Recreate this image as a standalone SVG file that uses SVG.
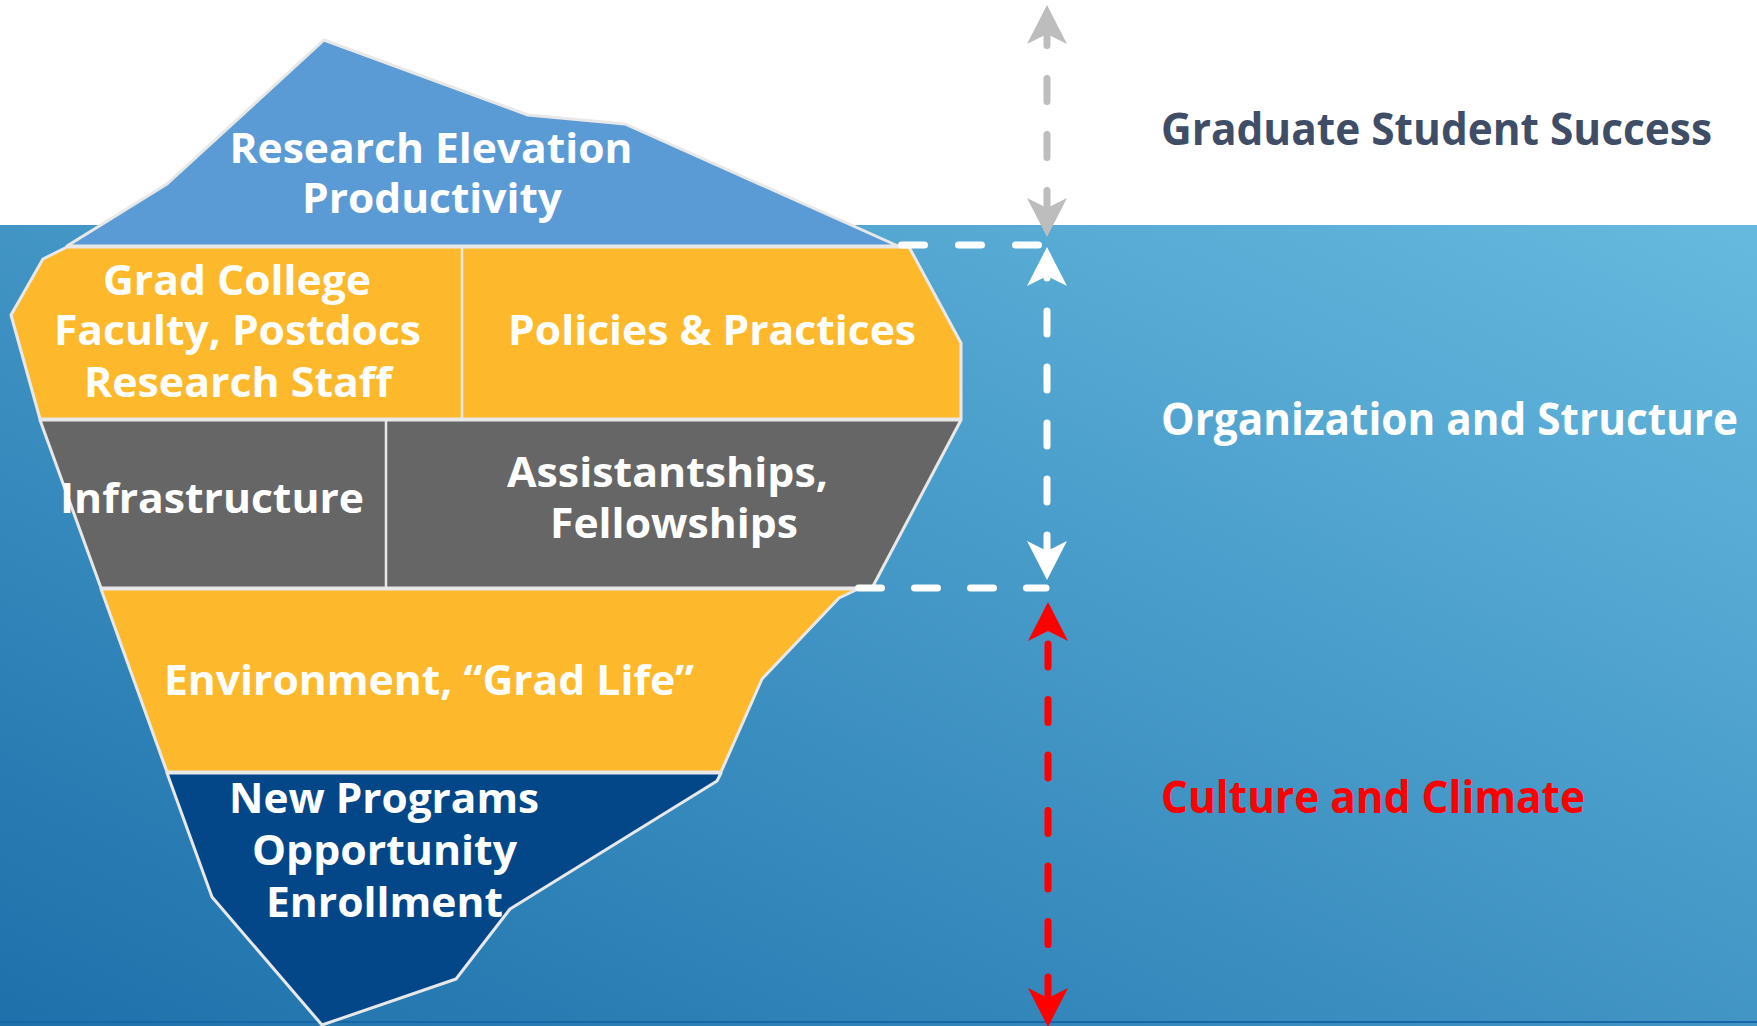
<svg xmlns="http://www.w3.org/2000/svg" xmlns:xlink="http://www.w3.org/1999/xlink" width="1757" height="1026" viewBox="0 0 1757 1026">
<style>
.ice{stroke:#e8e8e8;stroke-width:3;stroke-linejoin:round}
.div{stroke:#e8e8e8;stroke-width:2.5}
.lbl{font-family:"Open Sans","DejaVu Sans",sans-serif;font-weight:700;font-size:42px;fill:#ffffff;text-anchor:middle}
.side{font-family:"Open Sans","DejaVu Sans",sans-serif;font-weight:700;font-size:45px}
.dash{fill:none;stroke-linecap:round;stroke-width:7}
</style>
<defs>
<linearGradient id="water" gradientUnits="userSpaceOnUse" x1="1757" y1="225" x2="1152" y2="1550">
<stop offset="0" stop-color="#66badf"/>
<stop offset="1" stop-color="#1d70aa"/>
</linearGradient>
<path id="ah" d="M0,0 L-20,39 L0,29 L20,39 Z"/>
</defs>
<rect x="0" y="0" width="1757" height="1026" fill="#ffffff"/>
<rect x="0" y="225" width="1757" height="801" fill="url(#water)"/>
<rect x="0" y="1021" width="1757" height="2" fill="#1767a6"/>

<g id="node-research">
<polygon class="ice" fill="#5b9bd5" points="67,246 167,184 324,40 528,115 625,124 898,246"/>
<text class="lbl" x="431" y="163" textLength="403" lengthAdjust="spacingAndGlyphs">Research Elevation</text>
<text class="lbl" x="432" y="213" textLength="260" lengthAdjust="spacingAndGlyphs">Productivity</text>
</g>
<g id="node-yellow1">
<polygon class="ice" fill="#fdb92b" points="67,247 43,259 11,315 40,419 961,419 961,343 909,247"/>
<line class="div" x1="462" y1="247" x2="462" y2="419"/>
</g>
<g id="node-grad-college">
<text class="lbl" x="237" y="295" textLength="268" lengthAdjust="spacingAndGlyphs">Grad College</text>
<text class="lbl" x="237.5" y="345" textLength="367" lengthAdjust="spacingAndGlyphs">Faculty, Postdocs</text>
<text class="lbl" x="238" y="397" textLength="308" lengthAdjust="spacingAndGlyphs">Research Staff</text>
</g>
<g id="node-policies">
<text class="lbl" x="712" y="345" textLength="408" lengthAdjust="spacingAndGlyphs">Policies &amp; Practices</text>
</g>
<g id="node-gray">
<polygon class="ice" fill="#666666" points="40,420 961,420 872,588 101,588"/>
<line class="div" x1="386" y1="420" x2="386" y2="588"/>
</g>
<g id="node-infrastructure">
<text class="lbl" x="212" y="513" textLength="304" lengthAdjust="spacingAndGlyphs">Infrastructure</text>
</g>
<g id="node-assistantships">
<text class="lbl" x="667.5" y="487" textLength="321" lengthAdjust="spacingAndGlyphs">Assistantships,</text>
<text class="lbl" x="674" y="538" textLength="248" lengthAdjust="spacingAndGlyphs">Fellowships</text>
</g>
<g id="node-environment">
<polygon class="ice" fill="#fdb92b" points="101,589 858,589 839,598 762,679 721,772 167,772"/>
<text class="lbl" x="429" y="695" textLength="530" lengthAdjust="spacingAndGlyphs">Environment, “Grad Life”</text>
</g>
<g id="node-new-programs">
<polygon class="ice" fill="#034789" points="167,773 721,773 717,781 510,909 456,979 322,1025 212,897"/>
<text class="lbl" x="384" y="813" textLength="310" lengthAdjust="spacingAndGlyphs">New Programs</text>
<text class="lbl" x="384.5" y="865" textLength="265" lengthAdjust="spacingAndGlyphs">Opportunity</text>
<text class="lbl" x="384.5" y="917" textLength="237" lengthAdjust="spacingAndGlyphs">Enrollment</text>
</g>

<g id="connectors">
<line class="dash" stroke="#ffffff" x1="901.5" y1="245" x2="1040" y2="245" stroke-dasharray="23 34"/>
<line class="dash" stroke="#ffffff" x1="858.5" y1="588" x2="1046" y2="588" stroke-dasharray="23 33"/>
<line class="dash" stroke="#bdbdbd" x1="1047" y1="33" x2="1047" y2="232" stroke-dasharray="23 33" stroke-dashoffset="10.5"/>
<use xlink:href="#ah" fill="#bdbdbd" transform="translate(1047,5)"/>
<use xlink:href="#ah" fill="#bdbdbd" transform="translate(1047,237) rotate(180)"/>
<line class="dash" stroke="#ffffff" x1="1047" y1="255" x2="1047" y2="575" stroke-dasharray="23 33"/>
<use xlink:href="#ah" fill="#ffffff" transform="translate(1047,247)"/>
<use xlink:href="#ah" fill="#ffffff" transform="translate(1047,580) rotate(180)"/>
<line class="dash" stroke="#ff0000" stroke-width="8" x1="1048" y1="644" x2="1048" y2="1010" stroke-dasharray="23 32.5"/>
<use xlink:href="#ah" fill="#ff0000" transform="translate(1048,602)"/>
<use xlink:href="#ah" fill="#ff0000" transform="translate(1048,1027) rotate(180)"/>
</g>

<g id="label-success">
<text class="side" x="1161" y="145" fill="#3f4e66" textLength="551" lengthAdjust="spacingAndGlyphs">Graduate Student Success</text>
</g>
<g id="label-organization">
<text class="side" x="1161" y="435" fill="#ffffff" textLength="577" lengthAdjust="spacingAndGlyphs">Organization and Structure</text>
</g>
<g id="label-culture">
<text class="side" x="1161" y="813" fill="#ff0000" textLength="424" lengthAdjust="spacingAndGlyphs">Culture and Climate</text>
</g>
</svg>
